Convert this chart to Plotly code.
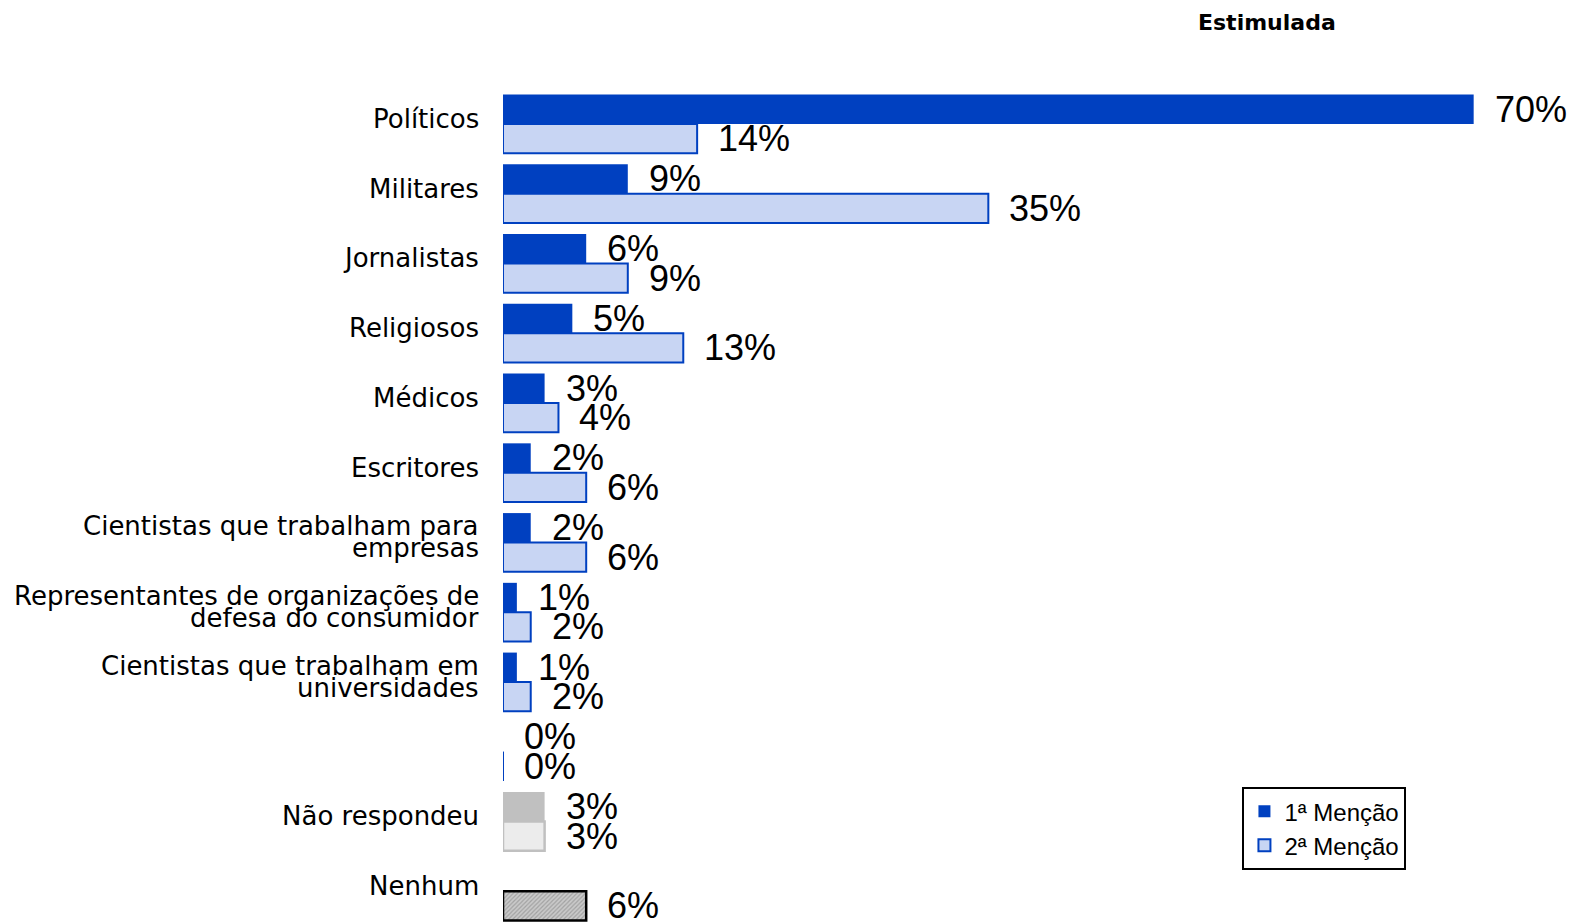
import plotly.graph_objects as go

categories = ["Políticos", "Militares", "Jornalistas", "Religiosos", "Médicos", "Escritores",
              "Cientistas que trabalham para<br>empresas",
              "Representantes de organizações de<br>defesa do consumidor",
              "Cientistas que trabalham em<br>universidades",
              "", "Não respondeu", "Nenhum"]
mencao1 = [70, 9, 6, 5, 3, 2, 2, 1, 1, 0, 3, None]
mencao2 = [14, 35, 9, 13, 4, 6, 6, 2, 2, 0, 3, 6]
series_names = ["1ª Menção", "2ª Menção"]
title_text = "Estimulada"

BLUE = "#0040C0"
LIGHT = "#C8D5F3"

idx = list(range(len(categories)))
half = 0.21
w = 0.42

# per-bar styling
c1 = ["#C0C0C0" if c == "Não respondeu" else BLUE for c in categories]

bg2, sh2, ln2, lw2 = [], [], [], []
for c in categories:
    if c == "Não respondeu":
        bg2.append("#ECECEC"); sh2.append(""); ln2.append("#C0C0C0"); lw2.append(2.5)
    elif c == "Nenhum":
        bg2.append("#CACACA"); sh2.append("/"); ln2.append("#000000"); lw2.append(2.5)
    else:
        bg2.append(LIGHT); sh2.append(""); ln2.append(BLUE); lw2.append(2)

fig = go.Figure()
fig.add_trace(go.Bar(
    name=series_names[0], orientation="h",
    x=mencao1, y=[i - half for i in idx], width=w,
    marker=dict(color=c1, line=dict(width=0)),
))
fig.add_trace(go.Bar(
    name=series_names[1], orientation="h",
    x=mencao2, y=[i + half for i in idx], width=w,
    marker=dict(color=bg2, line=dict(color=ln2, width=lw2),
                pattern=dict(shape=sh2, fillmode="overlay", fgopacity=0.3,
                             size=3, solidity=0.4)),
))

annotations = []
# value labels
for vals, off in ((mencao1, -half), (mencao2, half)):
    for i, v in zip(idx, vals):
        if v is None:
            continue
        annotations.append(dict(
            x=v, y=i + off, xref="x", yref="y", text=f"{v}%", showarrow=False,
            xanchor="left", yanchor="middle", xshift=19,
            font=dict(family="Liberation Sans, Arial", size=36, color="#000000")))

# category labels (tight line spacing as in the original)
LINE = 22
for i, c in zip(idx, categories):
    if not c:
        continue
    lines = c.split("<br>")
    n = len(lines)
    for k, t in enumerate(lines):
        annotations.append(dict(
            x=0, y=i, xref="paper", yref="y", text=t, showarrow=False,
            xanchor="right", yanchor="middle", xshift=-22,
            yshift=5 + ((n - 1) / 2 - k) * LINE,
            font=dict(family="DejaVu Sans", size=26, color="#000000")))

annotations.append(dict(
    x=0.735, y=1.080, xref="paper", yref="paper", text=f"<b>{title_text}</b>",
    showarrow=False, xanchor="center", yanchor="middle",
    font=dict(family="DejaVu Sans", size=22, color="#000000")))

shapes = []
for i, v in zip(idx, mencao2):
    if v == 0:
        shapes.append(dict(type="line", xref="x", yref="y", x0=0, x1=0,
                           y0=i + half - w / 2, y1=i + half + w / 2,
                           line=dict(color=BLUE, width=2)))

fig.update_layout(
    width=1582, height=923,
    margin=dict(l=495, r=47, t=81, b=5),
    paper_bgcolor="white", plot_bgcolor="white",
    barmode="overlay",
    showlegend=True,
    legend=dict(x=0.711, y=0.166, xanchor="left", yanchor="top",
                bgcolor="white", bordercolor="#000000", borderwidth=2,
                font=dict(family="Liberation Sans, Arial", size=24, color="#000000"),
                tracegroupgap=0, itemwidth=30),
    annotations=annotations,
    shapes=shapes,
)
fig.update_xaxes(range=[0, 75], visible=False, showgrid=False, zeroline=False)
fig.update_yaxes(range=[len(categories) - 0.5, -0.5], tickvals=idx, showticklabels=False,
                 showgrid=False, zeroline=False, showline=False, ticks="")

fig.write_html("out.html")
